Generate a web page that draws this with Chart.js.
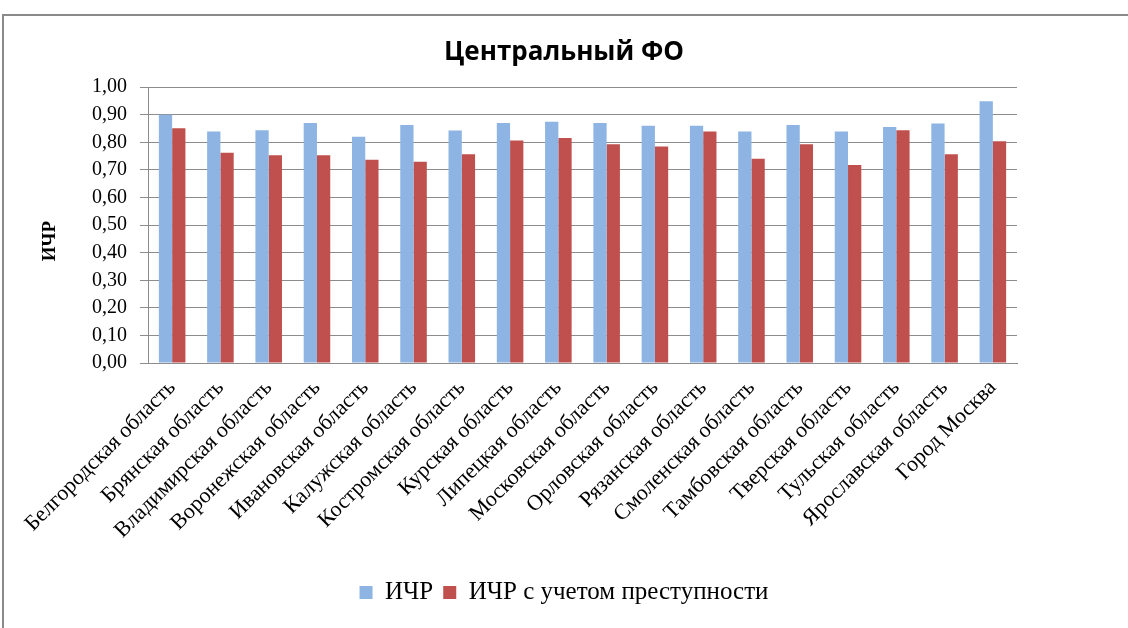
<!DOCTYPE html>
<html lang="ru">
<head>
<meta charset="utf-8">
<title>Центральный ФО</title>
<script src="https://cdn.jsdelivr.net/npm/chart.js@4/dist/chart.umd.min.js"></script>
<style>
  html, body { margin: 0; padding: 0; background: #fff; overflow: hidden; }
  #frame {
    position: absolute; left: 2px; top: 14px;
    width: 1200px; height: 700px;
    border: 2px solid #8a8a8a;
  }
  #wrap { position: absolute; left: 0; top: 0; width: 1128px; height: 628px; }
</style>
</head>
<body>
<div id="frame"></div>
<div id="wrap"><canvas id="chart"></canvas></div>
<script>
const regions = [
  'Белгородская область', 'Брянская область', 'Владимирская область',
  'Воронежская область', 'Ивановская область', 'Калужская область',
  'Костромская область', 'Курская область', 'Липецкая область',
  'Московская область', 'Орловская область', 'Рязанская область',
  'Смоленская область', 'Тамбовская область', 'Тверская область',
  'Тульская область', 'Ярославская область', 'Город Москва'
];

const hdi = [
  0.900, 0.839, 0.844, 0.870, 0.820, 0.863, 0.843, 0.870, 0.875,
  0.870, 0.860, 0.860, 0.839, 0.863, 0.839, 0.856, 0.868, 0.949
];

const hdiCrime = [
  0.851, 0.762, 0.753, 0.753, 0.737, 0.730, 0.757, 0.807, 0.816,
  0.793, 0.785, 0.839, 0.741, 0.793, 0.718, 0.844, 0.757, 0.804
];

const serif = '"Liberation Serif", "Times New Roman", serif';
const gridGray = '#8c8c8c';

// vertical axis caption, sitting a bit below the middle of the plot
const yCaption = {
  id: 'yCaption',
  afterDraw(chart) {
    const { ctx, chartArea } = chart;
    ctx.save();
    ctx.translate(50, (chartArea.top + chartArea.bottom) / 2 + 16);
    ctx.rotate(-Math.PI / 2);
    ctx.font = `bold 19px ${serif}`;
    ctx.fillStyle = '#000';
    ctx.textAlign = 'center';
    ctx.textBaseline = 'middle';
    ctx.fillText('ИЧР', 0, 0);
    ctx.restore();
  }
};

new Chart(document.getElementById('chart').getContext('2d'), {
  type: 'bar',
  data: {
    labels: regions,
    datasets: [
      {
        label: 'ИЧР',
        data: hdi,
        backgroundColor: '#8db4e2',
        categoryPercentage: 0.55,
        barPercentage: 1
      },
      {
        label: 'ИЧР с учетом преступности',
        data: hdiCrime,
        backgroundColor: '#c0504d',
        categoryPercentage: 0.55,
        barPercentage: 1
      }
    ]
  },
  plugins: [yCaption],
  options: {
    responsive: true,
    maintainAspectRatio: false,
    animation: false,
    layout: { padding: { left: 0, right: 0, top: 0, bottom: 13 } },
    plugins: {
      title: {
        display: true,
        text: 'Центральный ФО',
        color: '#000',
        font: { family: '"Open Sans", sans-serif', size: 26, weight: 'bold' },
        padding: { top: 37, bottom: 19 }
      },
      legend: {
        position: 'bottom',
        labels: {
          color: '#000',
          font: { family: serif, size: 25 },
          boxWidth: 13,
          boxHeight: 13,
          padding: 10
        }
      },
      tooltip: { enabled: false }
    },
    scales: {
      x: {
        grid: { display: false },
        border: { display: true, color: gridGray },
        ticks: {
          color: '#000',
          font: { family: serif, size: 22 },
          minRotation: 45,
          maxRotation: 45,
          autoSkip: false,
          padding: 4
        },
        afterFit: (scale) => { scale.height = 207; }
      },
      y: {
        min: 0,
        max: 1,
        grid: { color: gridGray, tickLength: 8 },
        border: { display: true, color: gridGray },
        ticks: {
          stepSize: 0.1,
          color: '#000',
          font: { family: serif, size: 20 },
          padding: 13,
          callback: (v) => v.toFixed(2).replace('.', ',')
        },
        afterFit: (scale) => { scale.width = 148; }
      },
      // empty right-hand gutter so the title and legend centre on the whole frame
      gutter: {
        position: 'right',
        grid: { display: false },
        border: { display: false },
        ticks: { display: false },
        afterFit: (scale) => { scale.width = 111; }
      }
    }
  }
});
</script>
</body>
</html>
